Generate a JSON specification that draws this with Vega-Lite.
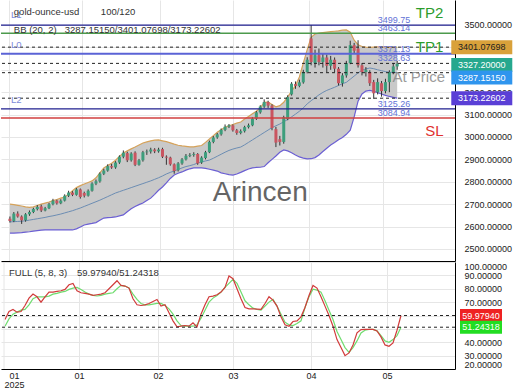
{
"$schema": "https://vega.github.io/schema/vega-lite/v6.json",
"padding": 0,
"spacing": 0,
"background": "white",
"config": {"font": "Liberation Sans", "view": {"stroke": null}, "axis": {"labelFont": "Liberation Sans", "title": null, "labelOverlap": false}},
"datasets": {
"one": [{}],
"candles": [
{"i":0,"o":2635,"h":2645,"l":2618,"c":2625,"u":2700,"m":2621,"lb":2571},
{"i":1,"o":2625,"h":2665,"l":2620,"c":2658,"u":2698,"m":2622,"lb":2571},
{"i":2,"o":2658,"h":2668,"l":2640,"c":2645,"u":2695,"m":2623,"lb":2572},
{"i":3,"o":2645,"h":2650,"l":2612,"c":2628,"u":2692,"m":2624,"lb":2573},
{"i":4,"o":2628,"h":2660,"l":2622,"c":2655,"u":2688,"m":2626,"lb":2575},
{"i":5,"o":2655,"h":2672,"l":2648,"c":2665,"u":2686,"m":2629,"lb":2577},
{"i":6,"o":2665,"h":2684,"l":2660,"c":2678,"u":2688,"m":2632,"lb":2580},
{"i":7,"o":2678,"h":2696,"l":2672,"c":2688,"u":2694,"m":2635,"lb":2582},
{"i":8,"o":2690,"h":2698,"l":2665,"c":2672,"u":2700,"m":2638,"lb":2584},
{"i":9,"o":2672,"h":2688,"l":2668,"c":2682,"u":2705,"m":2641,"lb":2585},
{"i":10,"o":2682,"h":2706,"l":2678,"c":2700,"u":2710,"m":2645,"lb":2585},
{"i":11,"o":2700,"h":2724,"l":2695,"c":2716,"u":2716,"m":2648,"lb":2585},
{"i":12,"o":2716,"h":2720,"l":2698,"c":2704,"u":2721,"m":2652,"lb":2585},
{"i":13,"o":2704,"h":2722,"l":2700,"c":2716,"u":2727,"m":2656,"lb":2585},
{"i":14,"o":2716,"h":2744,"l":2712,"c":2738,"u":2732,"m":2661,"lb":2585},
{"i":15,"o":2738,"h":2760,"l":2732,"c":2752,"u":2745,"m":2666,"lb":2585},
{"i":16,"o":2752,"h":2758,"l":2736,"c":2742,"u":2760,"m":2671,"lb":2585},
{"i":17,"o":2742,"h":2772,"l":2738,"c":2766,"u":2774,"m":2677,"lb":2590},
{"i":18,"o":2766,"h":2770,"l":2725,"c":2732,"u":2783,"m":2683,"lb":2598},
{"i":19,"o":2750,"h":2756,"l":2730,"c":2738,"u":2790,"m":2690,"lb":2607},
{"i":20,"o":2738,"h":2766,"l":2734,"c":2760,"u":2797,"m":2697,"lb":2611},
{"i":21,"o":2760,"h":2798,"l":2756,"c":2792,"u":2804,"m":2704,"lb":2614},
{"i":22,"o":2792,"h":2810,"l":2785,"c":2802,"u":2818,"m":2711,"lb":2618},
{"i":23,"o":2802,"h":2842,"l":2796,"c":2836,"u":2840,"m":2718,"lb":2628},
{"i":24,"o":2836,"h":2858,"l":2830,"c":2850,"u":2862,"m":2726,"lb":2638},
{"i":25,"o":2850,"h":2878,"l":2845,"c":2870,"u":2873,"m":2734,"lb":2640},
{"i":26,"o":2870,"h":2880,"l":2858,"c":2864,"u":2883,"m":2742,"lb":2641},
{"i":27,"o":2864,"h":2892,"l":2858,"c":2886,"u":2896,"m":2750,"lb":2643},
{"i":28,"o":2886,"h":2918,"l":2880,"c":2912,"u":2913,"m":2756,"lb":2648},
{"i":29,"o":2912,"h":2940,"l":2905,"c":2930,"u":2929,"m":2762,"lb":2652},
{"i":30,"o":2928,"h":2934,"l":2888,"c":2896,"u":2938,"m":2768,"lb":2666},
{"i":31,"o":2896,"h":2932,"l":2890,"c":2926,"u":2947,"m":2774,"lb":2680},
{"i":32,"o":2930,"h":2936,"l":2870,"c":2876,"u":2955,"m":2780,"lb":2690},
{"i":33,"o":2876,"h":2902,"l":2872,"c":2896,"u":2964,"m":2786,"lb":2698},
{"i":34,"o":2896,"h":2938,"l":2890,"c":2932,"u":2973,"m":2792,"lb":2705},
{"i":35,"o":2932,"h":2944,"l":2920,"c":2935,"u":2978,"m":2798,"lb":2716},
{"i":36,"o":2935,"h":2952,"l":2926,"c":2944,"u":2983,"m":2804,"lb":2727},
{"i":37,"o":2944,"h":2950,"l":2928,"c":2936,"u":2986,"m":2811,"lb":2744},
{"i":38,"o":2936,"h":2952,"l":2930,"c":2944,"u":2987,"m":2818,"lb":2762},
{"i":39,"o":2946,"h":2952,"l":2906,"c":2912,"u":2983,"m":2826,"lb":2777},
{"i":40,"o":2912,"h":2918,"l":2876,"c":2908,"u":2979,"m":2835,"lb":2795},
{"i":41,"o":2908,"h":2912,"l":2872,"c":2878,"u":2974,"m":2842,"lb":2815},
{"i":42,"o":2878,"h":2882,"l":2836,"c":2848,"u":2968,"m":2848,"lb":2830},
{"i":43,"o":2852,"h":2888,"l":2846,"c":2882,"u":2963,"m":2855,"lb":2838},
{"i":44,"o":2882,"h":2906,"l":2876,"c":2900,"u":2960,"m":2862,"lb":2844},
{"i":45,"o":2900,"h":2924,"l":2895,"c":2916,"u":2958,"m":2868,"lb":2852},
{"i":46,"o":2916,"h":2928,"l":2910,"c":2920,"u":2956,"m":2872,"lb":2858},
{"i":47,"o":2920,"h":2932,"l":2912,"c":2924,"u":2956,"m":2877,"lb":2862},
{"i":48,"o":2924,"h":2928,"l":2876,"c":2882,"u":2959,"m":2884,"lb":2862},
{"i":49,"o":2886,"h":2914,"l":2880,"c":2908,"u":2962,"m":2889,"lb":2862},
{"i":50,"o":2906,"h":2938,"l":2900,"c":2932,"u":2976,"m":2893,"lb":2860},
{"i":51,"o":2932,"h":2984,"l":2928,"c":2978,"u":2991,"m":2897,"lb":2856},
{"i":52,"o":2978,"h":3004,"l":2972,"c":2998,"u":3006,"m":2905,"lb":2852},
{"i":53,"o":2998,"h":3018,"l":2992,"c":3012,"u":3021,"m":2914,"lb":2848},
{"i":54,"o":3012,"h":3038,"l":3006,"c":3032,"u":3032,"m":2923,"lb":2840},
{"i":55,"o":3032,"h":3056,"l":3026,"c":3046,"u":3043,"m":2932,"lb":2836},
{"i":56,"o":3046,"h":3058,"l":3040,"c":3052,"u":3050,"m":2940,"lb":2832},
{"i":57,"o":3052,"h":3056,"l":3024,"c":3030,"u":3056,"m":2946,"lb":2830},
{"i":58,"o":3030,"h":3036,"l":3010,"c":3018,"u":3062,"m":2951,"lb":2835},
{"i":59,"o":3018,"h":3034,"l":3012,"c":3026,"u":3067,"m":2955,"lb":2842},
{"i":60,"o":3026,"h":3050,"l":3020,"c":3044,"u":3080,"m":2965,"lb":2850},
{"i":61,"o":3044,"h":3060,"l":3038,"c":3052,"u":3092,"m":2976,"lb":2857},
{"i":62,"o":3052,"h":3088,"l":3048,"c":3082,"u":3104,"m":2987,"lb":2862},
{"i":63,"o":3082,"h":3116,"l":3076,"c":3110,"u":3115,"m":2998,"lb":2864},
{"i":64,"o":3110,"h":3142,"l":3104,"c":3136,"u":3130,"m":3009,"lb":2865},
{"i":65,"o":3136,"h":3168,"l":3130,"c":3156,"u":3155,"m":3020,"lb":2868},
{"i":66,"o":3156,"h":3162,"l":3130,"c":3140,"u":3156,"m":3031,"lb":2885},
{"i":67,"o":3140,"h":3146,"l":3030,"c":3040,"u":3145,"m":3042,"lb":2900},
{"i":68,"o":3035,"h":3045,"l":2955,"c":2975,"u":3135,"m":3050,"lb":2915},
{"i":69,"o":2990,"h":3005,"l":2962,"c":2978,"u":3140,"m":3058,"lb":2932},
{"i":70,"o":2978,"h":3095,"l":2970,"c":3088,"u":3155,"m":3068,"lb":2942},
{"i":71,"o":3080,"h":3186,"l":3075,"c":3178,"u":3179,"m":3078,"lb":2938},
{"i":72,"o":3190,"h":3245,"l":3185,"c":3238,"u":3204,"m":3090,"lb":2930},
{"i":73,"o":3236,"h":3248,"l":3215,"c":3228,"u":3230,"m":3102,"lb":2920},
{"i":74,"o":3228,"h":3256,"l":3222,"c":3244,"u":3268,"m":3115,"lb":2911},
{"i":75,"o":3244,"h":3300,"l":3238,"c":3290,"u":3330,"m":3130,"lb":2906},
{"i":76,"o":3290,"h":3356,"l":3284,"c":3345,"u":3390,"m":3148,"lb":2902},
{"i":77,"o":3440,"h":3500,"l":3320,"c":3335,"u":3445,"m":3162,"lb":2903},
{"i":78,"o":3330,"h":3390,"l":3310,"c":3365,"u":3460,"m":3175,"lb":2908},
{"i":79,"o":3365,"h":3395,"l":3320,"c":3335,"u":3464,"m":3188,"lb":2920},
{"i":80,"o":3335,"h":3372,"l":3310,"c":3355,"u":3466,"m":3199,"lb":2935},
{"i":81,"o":3355,"h":3368,"l":3290,"c":3318,"u":3468,"m":3208,"lb":2950},
{"i":82,"o":3318,"h":3362,"l":3300,"c":3345,"u":3470,"m":3215,"lb":2964},
{"i":83,"o":3345,"h":3355,"l":3290,"c":3305,"u":3472,"m":3222,"lb":2975},
{"i":84,"o":3305,"h":3312,"l":3230,"c":3240,"u":3474,"m":3230,"lb":2988},
{"i":85,"o":3240,"h":3285,"l":3225,"c":3275,"u":3477,"m":3238,"lb":2998},
{"i":86,"o":3275,"h":3340,"l":3265,"c":3330,"u":3478,"m":3244,"lb":3012},
{"i":87,"o":3330,"h":3430,"l":3325,"c":3410,"u":3468,"m":3258,"lb":3030},
{"i":88,"o":3410,"h":3420,"l":3375,"c":3385,"u":3432,"m":3272,"lb":3090},
{"i":89,"o":3395,"h":3432,"l":3310,"c":3320,"u":3412,"m":3286,"lb":3160},
{"i":90,"o":3320,"h":3330,"l":3275,"c":3290,"u":3404,"m":3298,"lb":3192},
{"i":91,"o":3290,"h":3312,"l":3270,"c":3300,"u":3401,"m":3304,"lb":3205},
{"i":92,"o":3290,"h":3298,"l":3228,"c":3240,"u":3400,"m":3308,"lb":3208},
{"i":93,"o":3245,"h":3255,"l":3170,"c":3195,"u":3401,"m":3305,"lb":3204},
{"i":94,"o":3200,"h":3262,"l":3190,"c":3245,"u":3402,"m":3300,"lb":3198},
{"i":95,"o":3240,"h":3250,"l":3180,"c":3205,"u":3402,"m":3296,"lb":3192},
{"i":96,"o":3205,"h":3260,"l":3195,"c":3245,"u":3401,"m":3292,"lb":3186},
{"i":97,"o":3245,"h":3298,"l":3200,"c":3290,"u":3400,"m":3289,"lb":3181},
{"i":98,"o":3290,"h":3330,"l":3280,"c":3315,"u":3400,"m":3288,"lb":3177},
{"i":99,"o":3315,"h":3340,"l":3300,"c":3327.2,"u":3401.08,"m":3287.15,"lb":3173.23}
],
"stoch": [
{"i":0,"k":57,"d":52},{"i":1,"k":63,"d":57.5},{"i":2,"k":64.5,"d":61},{"i":3,"k":62.5,"d":62.5},{"i":4,"k":63,"d":64},
{"i":5,"k":67.5,"d":64.6},{"i":6,"k":73,"d":68},{"i":7,"k":76,"d":72.5},{"i":8,"k":74,"d":74},{"i":9,"k":70,"d":74},
{"i":10,"k":74,"d":74},{"i":11,"k":77.5,"d":74.5},{"i":12,"k":77.5,"d":76},{"i":13,"k":78,"d":76.5},{"i":14,"k":78.5,"d":77.5},
{"i":15,"k":79.5,"d":78},{"i":16,"k":83,"d":79.5},{"i":17,"k":84,"d":80.5},{"i":18,"k":78.5,"d":81},{"i":19,"k":77,"d":79.5},
{"i":20,"k":76.5,"d":77.5},{"i":21,"k":76,"d":76},{"i":22,"k":75,"d":75},{"i":23,"k":75.5,"d":74.6},{"i":24,"k":76,"d":75},
{"i":25,"k":77,"d":76},{"i":26,"k":80,"d":76.5},{"i":27,"k":83,"d":77},{"i":28,"k":86,"d":80},{"i":29,"k":82.5,"d":82.5},
{"i":30,"k":82,"d":82},{"i":31,"k":80.5,"d":80.5},{"i":32,"k":72.5,"d":76},{"i":33,"k":68,"d":72},{"i":34,"k":67.5,"d":69},
{"i":35,"k":68,"d":68},{"i":36,"k":69,"d":68},{"i":37,"k":70.5,"d":68.5},{"i":38,"k":72,"d":69},{"i":39,"k":67,"d":69},
{"i":40,"k":68,"d":67.5},{"i":41,"k":62,"d":65},{"i":42,"k":56,"d":61},{"i":43,"k":51.5,"d":56},{"i":44,"k":52,"d":52.5},
{"i":45,"k":52.5,"d":52},{"i":46,"k":52,"d":52},{"i":47,"k":54.6,"d":52},{"i":48,"k":51.5,"d":53},{"i":49,"k":61,"d":58},
{"i":50,"k":68,"d":64},{"i":51,"k":74,"d":70},{"i":52,"k":74.5,"d":73},{"i":53,"k":75.5,"d":75},{"i":54,"k":77.5,"d":77.5},
{"i":55,"k":81,"d":81},{"i":56,"k":89.5,"d":84},{"i":57,"k":87.5,"d":87},{"i":58,"k":80,"d":84},{"i":59,"k":72.5,"d":77.5},
{"i":60,"k":66,"d":71},{"i":61,"k":65,"d":68},{"i":62,"k":65,"d":65.5},{"i":63,"k":64.8,"d":64.5},{"i":64,"k":64.6,"d":64},
{"i":65,"k":69,"d":67},{"i":66,"k":74,"d":70},{"i":67,"k":71.5,"d":72},{"i":68,"k":67,"d":67},{"i":69,"k":59,"d":61},
{"i":70,"k":53,"d":55},{"i":71,"k":52,"d":53},{"i":72,"k":55.5,"d":52.5},{"i":73,"k":56,"d":54},{"i":74,"k":59,"d":56},
{"i":75,"k":66,"d":66},{"i":76,"k":75,"d":74},{"i":77,"k":82.5,"d":79.6},{"i":78,"k":80.5,"d":79},{"i":79,"k":74,"d":77.5},
{"i":80,"k":67,"d":71},{"i":81,"k":60,"d":64},{"i":82,"k":52,"d":57},{"i":83,"k":42,"d":48},{"i":84,"k":36,"d":42},
{"i":85,"k":30,"d":36},{"i":86,"k":32,"d":32.5},{"i":87,"k":38,"d":36},{"i":88,"k":47,"d":41},{"i":89,"k":49.5,"d":47},
{"i":90,"k":49.6,"d":49},{"i":91,"k":49.6,"d":49.6},{"i":92,"k":49.6,"d":49.6},{"i":93,"k":48.5,"d":48.5},{"i":94,"k":44,"d":45},
{"i":95,"k":38,"d":41},{"i":96,"k":37,"d":40},{"i":97,"k":39.5,"d":42},{"i":98,"k":49,"d":45},{"i":99,"k":59.9794,"d":51.24318}
]
},
"vconcat": [
{
"width": 454, "height": 261,
"data": {"name": "candles"},
"layer": [
{"mark": {"type": "area", "color": "#c9c9c9", "opacity": 1},
 "encoding": {
  "x": {"field": "i", "type": "quantitative", "scale": {"domain": [-1, 112.5], "nice": false, "zero": false},
        "axis": {"orient": "bottom", "labels": false, "ticks": false, "domain": true, "domainColor": "#000", "grid": true, "gridColor": "#e6e6e6", "values": [-0.25, 18.5, 38.25, 57, 76.5, 95.5], "tickCount": 50, "title": null}},
  "y": {"field": "lb", "type": "quantitative", "scale": {"domain": [2446.4, 3611.6], "nice": false, "zero": false},
        "axis": {"orient": "right", "values": [2500, 2600, 2700, 2800, 2900, 3000, 3100, 3200, 3300, 3400, 3500], "tickCount": 50, "format": ".5f", "ticks": false, "labelPadding": 9, "labelFontSize": 9, "labelColor": "#222", "labelOpacity": {"condition": {"test": "datum.value == 3400 || datum.value == 3300", "value": 0}, "value": 1}, "labelOverlap": false, "domain": true, "domainColor": "#000", "grid": true, "gridColor": "#e6e6e6", "title": null}},
  "y2": {"field": "u"}
 }},
{"mark": {"type": "line", "color": "#d5a25a", "strokeWidth": 1.2},
 "encoding": {"x": {"field": "i", "type": "quantitative"}, "y": {"field": "u", "type": "quantitative"}}},
{"mark": {"type": "line", "color": "#6b5fd3", "strokeWidth": 1.2},
 "encoding": {"x": {"field": "i", "type": "quantitative"}, "y": {"field": "lb", "type": "quantitative"}}},
{"mark": {"type": "line", "color": "#6c8db3", "strokeWidth": 1},
 "encoding": {"x": {"field": "i", "type": "quantitative"}, "y": {"field": "m", "type": "quantitative"}}},
{"mark": {"type": "rule", "color": "#333", "strokeWidth": 1},
 "encoding": {"x": {"field": "i", "type": "quantitative"}, "y": {"field": "l", "type": "quantitative"}, "y2": {"field": "h"}}},
{"mark": {"type": "bar", "size": 3},
 "encoding": {"x": {"field": "i", "type": "quantitative"}, "y": {"field": "o", "type": "quantitative"}, "y2": {"field": "c"},
  "color": {"condition": {"test": "datum.c >= datum.o", "value": "#3d9e7c"}, "value": "#c95560"}}},
{"data": {"values": [{"v": 3401.08}, {"v": 3328.63}, {"v": 3287.15}, {"v": 3173.23}]},
 "mark": {"type": "rule", "color": "#222", "strokeWidth": 1, "strokeDash": [3, 3]},
 "encoding": {"y": {"field": "v", "type": "quantitative"}}},
{"data": {"values": [{"v": 3499.75}, {"v": 3125.26}]},
 "mark": {"type": "rule", "color": "#1f1f8f", "strokeWidth": 1.2},
 "encoding": {"y": {"field": "v", "type": "quantitative"}}},
{"data": {"values": [{"v": 3463.14}]},
 "mark": {"type": "rule", "color": "#4c9a4c", "strokeWidth": 1.5},
 "encoding": {"y": {"field": "v", "type": "quantitative"}}},
{"data": {"values": [{"v": 3371.13}]},
 "mark": {"type": "rule", "color": "#5b63d6", "strokeWidth": 2},
 "encoding": {"y": {"field": "v", "type": "quantitative"}}},
{"data": {"values": [{"v": 3084.94}]},
 "mark": {"type": "rule", "color": "#d13f3f", "strokeWidth": 1.5},
 "encoding": {"y": {"field": "v", "type": "quantitative"}}},
{"data": {"values": [{"v": 3499.75}, {"v": 3463.14}, {"v": 3371.13}, {"v": 3328.63}, {"v": 3125.26}, {"v": 3084.94}]},
 "mark": {"type": "text", "align": "left", "baseline": "bottom", "dy": 0, "fontSize": 9, "color": "#6272d6"},
 "encoding": {"x": {"datum": 94, "type": "quantitative"}, "y": {"field": "v", "type": "quantitative"}, "text": {"field": "v", "type": "quantitative", "format": ".2f"}}},
{"data": {"name": "one"}, "mark": {"type": "text", "align": "center", "baseline": "middle", "fontSize": 28, "color": "#555555", "opacity": 0.9},
 "encoding": {"x": {"datum": 64, "type": "quantitative"}, "y": {"datum": 2750, "type": "quantitative"}, "text": {"value": "Arincen"}}},
{"data": {"name": "one"}, "mark": {"type": "text", "align": "center", "baseline": "middle", "fontSize": 15, "color": "#2c9c2c"},
 "encoding": {"x": {"datum": 107.25, "type": "quantitative"}, "y": {"datum": 3553.6, "type": "quantitative"}, "text": {"value": "TP2"}}},
{"data": {"name": "one"}, "mark": {"type": "text", "align": "center", "baseline": "middle", "fontSize": 15, "color": "#2c9c2c"},
 "encoding": {"x": {"datum": 107.25, "type": "quantitative"}, "y": {"datum": 3401.8, "type": "quantitative"}, "text": {"value": "TP1"}}},
{"data": {"name": "one"}, "mark": {"type": "text", "align": "center", "baseline": "middle", "fontSize": 15, "color": "#e03030"},
 "encoding": {"x": {"datum": 108.5, "type": "quantitative"}, "y": {"datum": 3026.8, "type": "quantitative"}, "text": {"value": "SL"}}},
{"data": {"name": "one"}, "mark": {"type": "text", "align": "center", "baseline": "middle", "fontSize": 15, "color": "#8a8a8a", "opacity": 0.85},
 "encoding": {"x": {"datum": 104.5, "type": "quantitative"}, "y": {"datum": 3267.9, "type": "quantitative"}, "text": {"value": "At Price"}}},
{"data": {"name": "one"}, "mark": {"type": "text", "align": "left", "baseline": "middle", "fontSize": 9.5, "color": "#7d8ad9"},
 "encoding": {"x": {"datum": 0.25, "type": "quantitative"}, "y": {"datum": 3544.6, "type": "quantitative"}, "text": {"value": "L1"}}},
{"data": {"name": "one"}, "mark": {"type": "text", "align": "left", "baseline": "middle", "fontSize": 9.5, "color": "#7d8ad9"},
 "encoding": {"x": {"datum": 0.25, "type": "quantitative"}, "y": {"datum": 3410.7, "type": "quantitative"}, "text": {"value": "L0"}}},
{"data": {"name": "one"}, "mark": {"type": "text", "align": "left", "baseline": "middle", "fontSize": 9.5, "color": "#7d8ad9"},
 "encoding": {"x": {"datum": 0.25, "type": "quantitative"}, "y": {"datum": 3165.2, "type": "quantitative"}, "text": {"value": "L2"}}},
{"data": {"name": "one"}, "mark": {"type": "text", "align": "left", "baseline": "middle", "fontSize": 9.5, "color": "#333"},
 "encoding": {"x": {"datum": 1, "type": "quantitative"}, "y": {"datum": 3558, "type": "quantitative"}, "text": {"value": "gold-ounce-usd"}}},
{"data": {"name": "one"}, "mark": {"type": "text", "align": "left", "baseline": "middle", "fontSize": 9.5, "color": "#333"},
 "encoding": {"x": {"datum": 23.25, "type": "quantitative"}, "y": {"datum": 3558, "type": "quantitative"}, "text": {"value": "100/120"}}},
{"data": {"name": "one"}, "mark": {"type": "text", "align": "left", "baseline": "middle", "fontSize": 9.5, "color": "#333"},
 "encoding": {"x": {"datum": 1, "type": "quantitative"}, "y": {"datum": 3477.7, "type": "quantitative"}, "text": {"value": "BB (20, 2)"}}},
{"data": {"name": "one"}, "mark": {"type": "text", "align": "left", "baseline": "middle", "fontSize": 9.5, "color": "#333"},
 "encoding": {"x": {"datum": 14, "type": "quantitative"}, "y": {"datum": 3477.7, "type": "quantitative"}, "text": {"value": "3287.15150/3401.07698/3173.22602"}}},
{"data": {"name": "one"}, "mark": {"type": "point", "shape": "M-1,-0.23H1V0.23H-1Z", "size": 3721, "filled": true, "opacity": 1, "color": "#d9a13a", "strokeWidth": 0},
 "encoding": {"x": {"datum": 120.625, "type": "quantitative"}, "y": {"datum": 3401.07698, "type": "quantitative"}}},
{"data": {"name": "one"}, "mark": {"type": "point", "shape": "M-1,-0.23H1V0.23H-1Z", "size": 3721, "filled": true, "opacity": 1, "color": "#26a88e", "strokeWidth": 0},
 "encoding": {"x": {"datum": 120.625, "type": "quantitative"}, "y": {"datum": 3321.4, "type": "quantitative"}}},
{"data": {"name": "one"}, "mark": {"type": "point", "shape": "M-1,-0.23H1V0.23H-1Z", "size": 3721, "filled": true, "opacity": 1, "color": "#2f95ee", "strokeWidth": 0},
 "encoding": {"x": {"datum": 120.625, "type": "quantitative"}, "y": {"datum": 3265.6, "type": "quantitative"}}},
{"data": {"name": "one"}, "mark": {"type": "point", "shape": "M-1,-0.23H1V0.23H-1Z", "size": 3721, "filled": true, "opacity": 1, "color": "#5a3fd6", "strokeWidth": 0},
 "encoding": {"x": {"datum": 120.625, "type": "quantitative"}, "y": {"datum": 3173.22602, "type": "quantitative"}}},
{"data": {"name": "one"}, "mark": {"type": "text", "align": "center", "baseline": "middle", "fontSize": 9, "color": "#222"},
 "encoding": {"x": {"datum": 120.625, "type": "quantitative"}, "y": {"datum": 3401.07698, "type": "quantitative"}, "text": {"value": "3401.07698"}}},
{"data": {"name": "one"}, "mark": {"type": "text", "align": "center", "baseline": "middle", "fontSize": 9, "color": "#ffffff"},
 "encoding": {"x": {"datum": 120.625, "type": "quantitative"}, "y": {"datum": 3321.4, "type": "quantitative"}, "text": {"value": "3327.20000"}}},
{"data": {"name": "one"}, "mark": {"type": "text", "align": "center", "baseline": "middle", "fontSize": 9, "color": "#ffffff"},
 "encoding": {"x": {"datum": 120.625, "type": "quantitative"}, "y": {"datum": 3265.6, "type": "quantitative"}, "text": {"value": "3287.15150"}}},
{"data": {"name": "one"}, "mark": {"type": "text", "align": "center", "baseline": "middle", "fontSize": 9, "color": "#ffffff"},
 "encoding": {"x": {"datum": 120.625, "type": "quantitative"}, "y": {"datum": 3173.22602, "type": "quantitative"}, "text": {"value": "3173.22602"}}}
]
},
{
"width": 454, "height": 107,
"data": {"name": "stoch"},
"layer": [
{"mark": {"type": "line", "color": "#6fdc6f", "strokeWidth": 1.2},
 "encoding": {
  "x": {"field": "i", "type": "quantitative", "scale": {"domain": [-1, 112.5], "nice": false, "zero": false},
        "axis": {"orient": "bottom", "values": [2.25, 18.5, 38.25, 57, 76.5, 95.5], "tickCount": 50, "labelExpr": "datum.value < 5 ? ['01', '2025'] : datum.value < 30 ? '01' : datum.value < 45 ? '02' : datum.value < 65 ? '03' : datum.value < 85 ? '04' : '05'", "ticks": false, "labelPadding": 2, "labelLineHeight": 9, "labelFontSize": 9, "labelColor": "#222", "labelOverlap": false, "domain": true, "domainColor": "#000", "grid": true, "gridColor": {"condition": {"test": "datum.value < 5", "value": "transparent"}, "value": "#e6e6e6"}, "title": null}},
  "y": {"field": "d", "type": "quantitative", "scale": {"domain": [20, 100], "nice": false, "zero": false},
        "axis": {"orient": "right", "values": [20, 30, 40, 50, 60, 70, 80, 90, 100], "tickCount": 50, "format": ".5f", "ticks": false, "labelPadding": 9, "labelFontSize": 9, "labelColor": "#222", "labelOpacity": {"condition": {"test": "datum.value == 60 || datum.value == 50", "value": 0}, "value": 1}, "labelOverlap": false, "labelFlush": true, "domain": true, "domainColor": "#000", "grid": true, "gridColor": "#e6e6e6", "title": null}}
 }},
{"mark": {"type": "line", "color": "#d13b3b", "strokeWidth": 1.2},
 "encoding": {"x": {"field": "i", "type": "quantitative"}, "y": {"field": "k", "type": "quantitative"}}},
{"data": {"name": "one"}, "mark": {"type": "rule", "color": "#e6e6e6", "strokeWidth": 1},
 "encoding": {"x": {"datum": -0.25, "type": "quantitative"}}},
{"data": {"values": [{"v": 59.9794}, {"v": 51.24318}]},
 "mark": {"type": "rule", "color": "#222", "strokeWidth": 1, "strokeDash": [3, 3]},
 "encoding": {"y": {"field": "v", "type": "quantitative"}}},
{"data": {"name": "one"}, "mark": {"type": "text", "align": "left", "baseline": "middle", "fontSize": 9.5, "color": "#333"},
 "encoding": {"x": {"datum": 1, "type": "quantitative"}, "y": {"datum": 91.8, "type": "quantitative"}, "text": {"value": "FULL (5, 8, 3)"}}},
{"data": {"name": "one"}, "mark": {"type": "text", "align": "left", "baseline": "middle", "fontSize": 9.5, "color": "#333"},
 "encoding": {"x": {"datum": 18, "type": "quantitative"}, "y": {"datum": 91.8, "type": "quantitative"}, "text": {"value": "59.97940/51.24318"}}},
{"data": {"name": "one"}, "mark": {"type": "point", "shape": "M-1,-0.31H1V0.31H-1Z", "size": 1764, "filled": true, "opacity": 1, "color": "#ee2222", "strokeWidth": 0},
 "encoding": {"x": {"datum": 119, "type": "quantitative"}, "y": {"datum": 59.9794, "type": "quantitative"}}},
{"data": {"name": "one"}, "mark": {"type": "point", "shape": "M-1,-0.31H1V0.31H-1Z", "size": 1764, "filled": true, "opacity": 1, "color": "#22dd22", "strokeWidth": 0},
 "encoding": {"x": {"datum": 119, "type": "quantitative"}, "y": {"datum": 51.24318, "type": "quantitative"}}},
{"data": {"name": "one"}, "mark": {"type": "text", "align": "center", "baseline": "middle", "fontSize": 9, "color": "#ffffff"},
 "encoding": {"x": {"datum": 119, "type": "quantitative"}, "y": {"datum": 59.9794, "type": "quantitative"}, "text": {"value": "59.97940"}}},
{"data": {"name": "one"}, "mark": {"type": "text", "align": "center", "baseline": "middle", "fontSize": 9, "color": "#ffffff"},
 "encoding": {"x": {"datum": 119, "type": "quantitative"}, "y": {"datum": 51.24318, "type": "quantitative"}, "text": {"value": "51.24318"}}}
]
}
]
}
